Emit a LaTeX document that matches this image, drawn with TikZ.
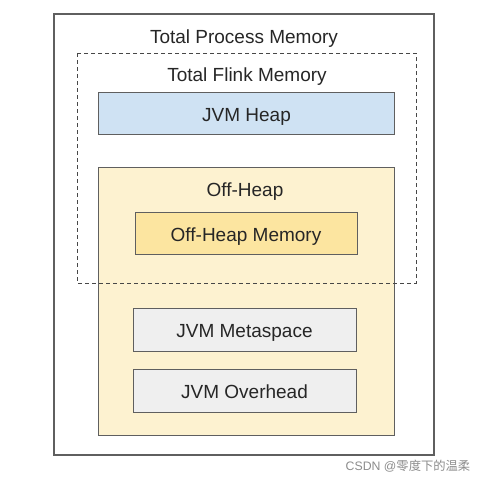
\documentclass[tikz,border=0pt]{standalone}
\usepackage{fontspec}
\setmainfont{Liberation Sans}
\newfontfamily\cjk{Noto Sans CJK SC}
\definecolor{edgegray}{HTML}{5F5F5F}
\definecolor{heapblue}{HTML}{CFE2F3}
\definecolor{offpale}{HTML}{FDF2D0}
\definecolor{offgold}{HTML}{FCE5A0}
\definecolor{metagray}{HTML}{EFEFEF}
\tikzset{
  membox/.style={draw=edgegray,line width=1pt,rectangle,inner sep=0pt,
    font=\fontsize{19}{22}\selectfont,text=black!85,text height=16pt,text depth=0pt},
  memlabel/.style={font=\fontsize{19}{22}\selectfont,text=black!85,inner sep=0pt,
    text height=16pt,text depth=0pt}
}
\begin{document}
\begin{tikzpicture}[x=1pt,y=-1pt]
  \useasboundingbox (0,0) rectangle (485,482);
  % outer process box
  \draw[line width=1.4pt,draw=edgegray] (54,14) rectangle (434,455);
  \node[memlabel] (procTitle) at (244,35.5) {Total Process Memory};
  \node[memlabel] (flinkTitle) at (247,73.5) {Total Flink Memory};
  % heap
  \node[membox,fill=heapblue,minimum width=296pt,minimum height=42pt] (heap) at (246.5,113.5) {JVM Heap};
  % off-heap group
  \node[membox,fill=offpale,minimum width=296pt,minimum height=268pt] (offHeap) at (246.5,301) {};
  \node[memlabel] (offTitle) at (245,188.5) {Off-Heap};
  \node[membox,fill=offgold,minimum width=222pt,minimum height=42pt] (offMem) at (246,233) {Off-Heap Memory};
  \node[membox,fill=metagray,minimum width=223pt,minimum height=43pt] (meta) at (244.5,329.5) {JVM Metaspace};
  \node[membox,fill=metagray,minimum width=223pt,minimum height=43pt] (overhead) at (244.5,390.5) {JVM Overhead};
  % flink boundary
  \draw[line width=1pt,draw=black!72,dash pattern=on 4pt off 3pt] (77,53) rectangle (416,283);
  \node[font=\fontsize{12.3}{14}\selectfont,text=black!45,inner sep=0pt] (mark) at (408,466) {CSDN @{\cjk 零度下的温柔}};
\end{tikzpicture}
\end{document}
